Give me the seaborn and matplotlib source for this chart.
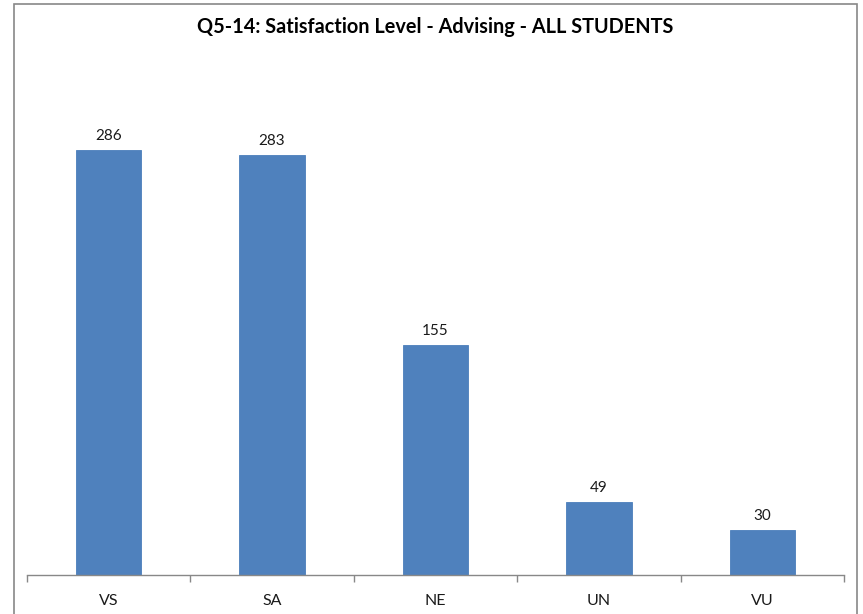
import numpy as np
import pandas as pd
import matplotlib
matplotlib.use("Agg")
import matplotlib.pyplot as plt
import seaborn as sns
from matplotlib.patches import Rectangle

categorias = ["VS", "SA", "NE", "UN", "VU"]
contagens = [286, 283, 155, 49, 30]
titulo = "Q5-14: Satisfaction Level - Advising - ALL STUDENTS"

sns.set_theme(style="white")
plt.rcParams['font.family'] = ['Lato', 'DejaVu Sans']

df = pd.DataFrame({"nivel": categorias, "n": contagens})

fig = plt.figure(figsize=(8.63, 6.14), dpi=100)
ax = fig.add_axes([27 / 863, 1 - 575 / 614, (844 - 27) / 863, (575 - 55) / 614])

sns.barplot(data=df, x="nivel", y="n", color="#4F81BD", saturation=1,
            width=0.4, ax=ax)
for p in ax.patches:
    p.set_edgecolor("#4A7EBB")
    p.set_linewidth(0.6)

ax.bar_label(ax.containers[0], padding=5, fontsize=11, color="#1a1a1a")

ax.set_xlim(-0.5, len(categorias) - 0.5)
ax.set_ylim(0, 350)
ax.set_xlabel("")
ax.set_ylabel("")
ax.set_yticks([])
ax.tick_params(axis="x", which="major", bottom=True, length=0, pad=14,
               labelsize=11.5, labelcolor="#1a1a1a")
ax.set_xticks(np.arange(-0.5, len(categorias)), minor=True)
ax.tick_params(axis="x", which="minor", bottom=True, length=5, width=1,
               color="#888888", direction="out")
for s in ["top", "right", "left"]:
    ax.spines[s].set_visible(False)
ax.spines["bottom"].set_color("#888888")
ax.spines["bottom"].set_linewidth(1)

fig.text(435 / 863, 1 - 27 / 614, titulo, ha="center", va="center",
         fontsize=14.3, fontweight="bold", color="#000000")

# moldura do gráfico
fig.patches.append(Rectangle((14 / 863, -0.05), (857 - 14) / 863, 1.05 - 4 / 614,
                             transform=fig.transFigure, fill=False,
                             edgecolor="#888888", linewidth=1.2))

fig.savefig("out.png", dpi=100)
